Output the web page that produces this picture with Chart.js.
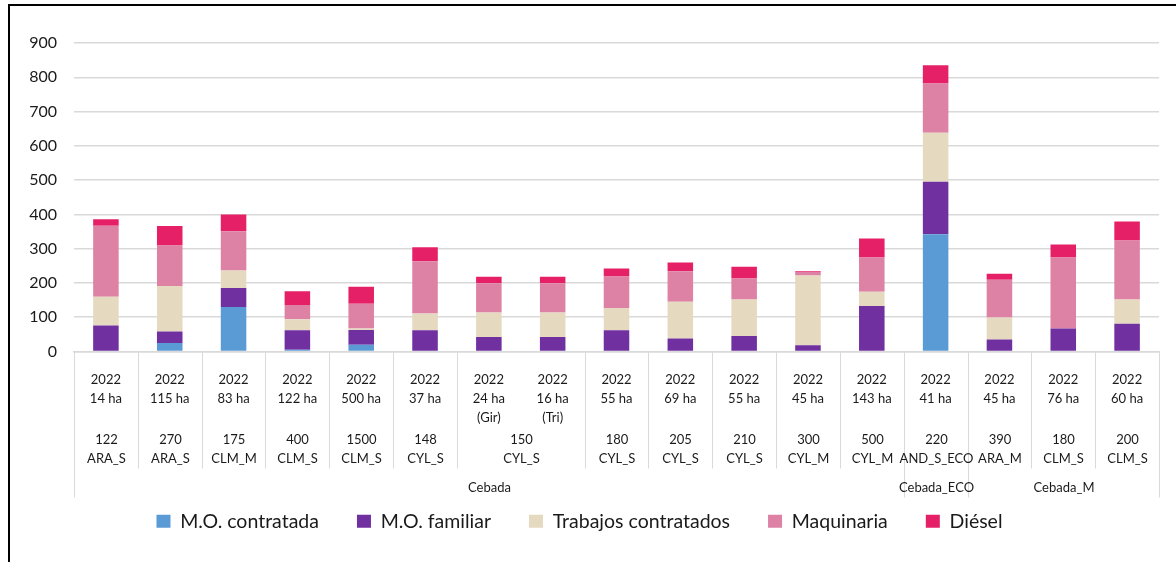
<!DOCTYPE html>
<html>
<head>
<meta charset="utf-8">
<script src="https://cdn.jsdelivr.net/npm/chart.js@4"></script>
<style>
  body { margin: 0; overflow: hidden; background: #fff; }
  #frame { position: absolute; left: 8px; top: 4px; width: 1300px; height: 700px; border: 2px solid #000; }
  #chart { position: absolute; left: 0; top: 0; }
</style>
</head>
<body>
<div id="frame"></div>
<canvas id="chart" width="1176" height="562"></canvas>
<script>
// Level 1 of the axis: year, surface and note
const years = ['2022', '2022', '2022', '2022', '2022', '2022', '2022', '2022', '2022', '2022', '2022', '2022', '2022', '2022', '2022', '2022', '2022'];
const areas = ['14 ha', '115 ha', '83 ha', '122 ha', '500 ha', '37 ha', '24 ha', '16 ha', '55 ha', '69 ha', '55 ha', '45 ha', '143 ha', '41 ha', '45 ha', '76 ha', '60 ha'];
const notes = ['', '', '', '', '', '', '(Gir)', '(Tri)', '', '', '', '', '', '', '', '', ''];

// Level 2: farm size + region, and how many bars each one covers
const farmSizes = ['122', '270', '175', '400', '1500', '148', '150', '180', '205', '210', '300', '500', '220', '390', '180', '200'];
const farmRegions = ['ARA_S', 'ARA_S', 'CLM_M', 'CLM_S', 'CLM_S', 'CYL_S', 'CYL_S', 'CYL_S', 'CYL_S', 'CYL_S', 'CYL_M', 'CYL_M', 'AND_S_ECO', 'ARA_M', 'CLM_S', 'CLM_S'];
const farmSpan = [1, 1, 1, 1, 1, 1, 2, 1, 1, 1, 1, 1, 1, 1, 1, 1];

// Level 3: crop
const cropNames = ['Cebada', 'Cebada_ECO', 'Cebada_M'];
const cropSpan = [13, 1, 3];

// Series (EUR/ha)
const moContratada = [0, 25, 130, 5, 20, 0, 0, 0, 0, 0, 0, 0, 0, 342, 0, 0, 0];
const moFamiliar = [76, 33, 55, 57, 43, 62, 42, 42, 62, 38, 45, 18, 133, 153, 35, 67, 81];
const trabajos = [84, 133, 51, 32, 4, 49, 72, 72, 65, 107, 107, 204, 41, 143, 64, 0, 71];
const maquinaria = [207, 118, 115, 42, 72, 152, 85, 85, 92, 89, 61, 10, 100, 144, 110, 207, 172];
const diesel = [19, 57, 49, 40, 50, 41, 19, 19, 23, 26, 34, 2, 56, 53, 18, 38, 55];

const yTicks = [0, 100, 200, 300, 400, 500, 600, 700, 800, 900];

const FONT = 'Lato';
const TEXT = '#1a1a1a';
const LINE = '#d9d9d9';

// multi-line labels for the first level
const labels = years.map((y, i) => [y, areas[i], notes[i]].filter(Boolean));

function dataset(label, data, color) {
  return { label: label, data: data, backgroundColor: color, borderWidth: 0 };
}

// draws the 2nd and 3rd label rows and the separators of the category axis
const groupAxis = {
  id: 'groupAxis',
  afterDraw(chart) {
    const ctx = chart.ctx;
    const x = chart.scales.x;
    const half = (x.getPixelForValue(1) - x.getPixelForValue(0)) / 2;
    const edge = i => Math.round(x.getPixelForValue(i) - half) + 0.5;
    const top = x.top;

    ctx.save();
    ctx.strokeStyle = LINE;
    ctx.lineWidth = 1;

    // where crops start/end -> long separators
    const cropEdges = [0];
    cropSpan.forEach(n => cropEdges.push(cropEdges[cropEdges.length - 1] + n));

    let start = 0;
    const farmEdges = [0];
    farmSpan.forEach(n => { start += n; farmEdges.push(start); });

    farmEdges.forEach(i => {
      const long = cropEdges.includes(i);
      ctx.beginPath();
      ctx.moveTo(edge(i), top);
      ctx.lineTo(edge(i), top + (long ? 146 : 117));
      ctx.stroke();
    });

    ctx.fillStyle = TEXT;
    ctx.textAlign = 'center';
    ctx.textBaseline = 'middle';
    ctx.font = '13px ' + FONT;

    start = 0;
    farmSpan.forEach((n, k) => {
      const cx = (edge(start) + edge(start + n)) / 2;
      ctx.fillText(farmSizes[k], cx, top + 88);
      ctx.fillText(farmRegions[k], cx, top + 107);
      start += n;
    });

    start = 0;
    cropSpan.forEach((n, k) => {
      const cx = (edge(start) + edge(start + n)) / 2;
      ctx.fillText(cropNames[k], cx, top + 136);
      start += n;
    });
    ctx.restore();
  }
};

const chart = new Chart(document.getElementById('chart'), {
  type: 'bar',
  data: {
    labels: labels,
    datasets: [
      dataset('M.O. contratada', moContratada, '#5b9bd5'),
      dataset('M.O. familiar', moFamiliar, '#7030a0'),
      dataset('Trabajos contratados', trabajos, '#e5dabf'),
      dataset('Maquinaria', maquinaria, '#dd82a4'),
      dataset('Diésel', diesel, '#e52067')
    ]
  },
  options: {
    responsive: false,
    animation: false,
    categoryPercentage: 1,
    barPercentage: 0.4,
    layout: { padding: { top: 43, right: 17, bottom: 21, left: 0 } },
    plugins: {
      tooltip: { enabled: false },
      legend: {
        position: 'bottom',
        labels: {
          font: { family: FONT, size: 19.5 },
          color: TEXT,
          boxWidth: 14,
          boxHeight: 13,
          padding: 38
        }
      }
    },
    scales: {
      x: {
        stacked: true,
        grid: { display: false },
        border: { color: LINE, width: 1.5 },
        ticks: {
          autoSkip: false,
          maxRotation: 0,
          padding: 11,
          color: TEXT,
          font: { family: FONT, size: 13, lineHeight: 1.45 }
        },
        afterFit(scale) { scale.height = 122; }
      },
      y: {
        stacked: true,
        min: yTicks[0],
        max: yTicks[yTicks.length - 1],
        afterBuildTicks(scale) { scale.ticks = yTicks.map(v => ({ value: v })); },
        grid: { color: LINE, lineWidth: 1.5, drawTicks: false },
        border: { display: false },
        ticks: {
          padding: 17,
          color: TEXT,
          font: { family: FONT, size: 16 }
        },
        afterFit(scale) { scale.width = 74; }
      }
    }
  },
  plugins: [groupAxis]
});
</script>
</body>
</html>
